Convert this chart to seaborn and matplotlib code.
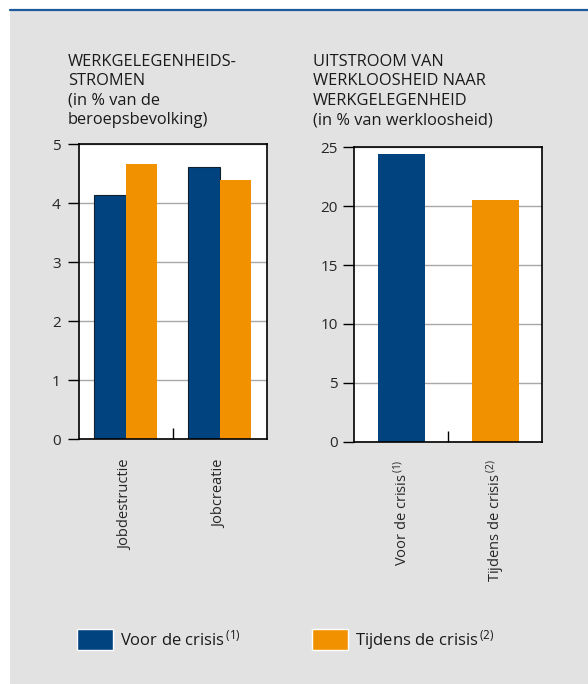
import numpy as np
import pandas as pd
import matplotlib
matplotlib.use('Agg')
import matplotlib.pyplot as plt
import seaborn as sns
from matplotlib.patches import Patch, Rectangle
from matplotlib.lines import Line2D

# stijl
sns.set_style('white')
plt.rcParams['font.family'] = ['Open Sans', 'DejaVu Sans']
plt.rcParams['mathtext.fontset'] = 'custom'
plt.rcParams['mathtext.rm'] = 'Open Sans'
plt.rcParams['mathtext.it'] = 'Open Sans'
plt.rcParams['mathtext.bf'] = 'Open Sans'
plt.rcParams['text.color'] = '#1a1a1a'

blauw = '#00437f'
oranje = '#f29100'
grijs_bg = '#e2e2e2'

# data
stromen = ['Jobdestructie', 'Jobcreatie']
perioden = ['Voor de crisis', 'Tijdens de crisis']
voor_crisis = [4.14, 4.62]
tijdens_crisis = [4.67, 4.39]
uitstroom = [24.4, 20.5]
uitstroom_labels = ['Voor de crisis$^{\\,(1)}$', 'Tijdens de crisis$^{\\,(2)}$']

titel_links = 'WERKGELEGENHEIDS-\nSTROMEN\n(in % van de\nberoepsbevolking)'
titel_rechts = 'UITSTROOM VAN\nWERKLOOSHEID NAAR\nWERKGELEGENHEID\n(in % van werkloosheid)'

W, H = 588, 684
fig = plt.figure(figsize=(W / 100, H / 100), dpi=100, facecolor='white')

# grijze achtergrond en blauwe lijn bovenaan
fig.patches.append(Rectangle((10 / W, 0), 1, (H - 11) / H, transform=fig.transFigure,
                             facecolor=grijs_bg, edgecolor='none', zorder=-10))
fig.lines.append(Line2D([10 / W, 1], [1 - 10 / H, 1 - 10 / H], transform=fig.transFigure,
                        color='#1c5a9c', linewidth=1.6))

ax1 = fig.add_axes([78.7 / W, 244.7 / H, 188 / W, 295 / H])
ax2 = fig.add_axes([354.3 / W, 242.3 / H, 188 / W, 294.4 / H])

df1 = pd.DataFrame({'stroom': stromen * 2,
                    'periode': [perioden[0]] * 2 + [perioden[1]] * 2,
                    'waarde': voor_crisis + tijdens_crisis})
sns.barplot(data=df1, x='stroom', y='waarde', hue='periode', palette=[blauw, oranje],
            width=0.665, saturation=1, legend=False, linewidth=0, ax=ax1)
for p in ax1.patches[:2]:
    p.set_edgecolor('#10202e')
    p.set_linewidth(0.8)

df2 = pd.DataFrame({'periode': perioden, 'waarde': uitstroom})
sns.barplot(data=df2, x='periode', y='waarde', hue='periode', palette=[blauw, oranje],
            width=0.5, saturation=1, legend=False, linewidth=0, ax=ax2)

for ax, ymax, step, labels, pad, ypad in [(ax1, 5, 1, stromen, 11, 5),
                                          (ax2, 25, 5, uitstroom_labels, 9, 4)]:
    ax.set_facecolor('white')
    ax.set_xlim(-0.5, 1.5)
    ax.set_ylim(0, ymax)
    ax.set_yticks(np.arange(0, ymax + 0.1, step))
    ax.set_xticks([0, 1], labels=labels, rotation=90)
    ax.set_xticks([0.5], minor=True)
    ax.set_xlabel('')
    ax.set_ylabel('')
    ax.yaxis.grid(True, color='#a8a8a8', linewidth=1)
    ax.set_axisbelow(True)
    for s in ax.spines.values():
        s.set_visible(True)
        s.set_color('black')
        s.set_linewidth(1.2)
    ax.tick_params(axis='y', direction='out', length=8, width=1, color='black',
                   left=True, labelsize=11, pad=ypad)
    ax.tick_params(axis='x', which='major', bottom=False, labelsize=10.5, pad=pad)
    ax.tick_params(axis='x', which='minor', direction='in', length=8, width=1,
                   color='black', bottom=True)

fig.text(68 / W, 1 - 54 / H, titel_links, ha='left', va='top', fontsize=11.8, linespacing=1.28)
fig.text(313 / W, 1 - 54 / H, titel_rechts, ha='left', va='top', fontsize=11.8, linespacing=1.28)

handles = [Patch(facecolor=blauw, label='Voor de crisis$^{\\,(1)}$'),
           Patch(facecolor=oranje, label='Tijdens de crisis$^{\\,(2)}$')]
fig.legend(handles=handles, loc='upper left', bbox_to_anchor=(77 / W, 1 - 628 / H),
           ncol=2, frameon=False, fontsize=12, borderpad=0, borderaxespad=0,
           handlelength=2.15, handleheight=1.55, handletextpad=0.4, columnspacing=4.3)

fig.savefig('out.png', dpi=100, facecolor='white')
